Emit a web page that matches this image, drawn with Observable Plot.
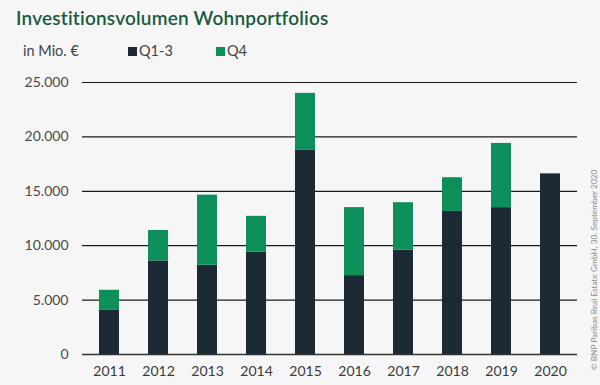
<!DOCTYPE html>
<html>
<head>
<meta charset="utf-8">
<script src="https://cdn.jsdelivr.net/npm/d3@7"></script>
<script src="https://cdn.jsdelivr.net/npm/@observablehq/plot@0.6"></script>
<style>
  html, body { margin: 0; padding: 0; background: #f6f6f6; }
  #wrap { position: relative; width: 600px; height: 385px; overflow: hidden; background: #f6f6f6; font-family: Lato, "Open Sans", sans-serif; }
  #title { position: absolute; left: 16px; top: 6px; font-size: 19px; font-weight: 600; color: #1a5a3e; letter-spacing: 0.2px; white-space: nowrap; }
  .sub { position: absolute; top: 42px; font-size: 14.5px; color: #444; white-space: nowrap; }
  .sw { display: inline-block; width: 9px; height: 9px; margin-right: 2px; vertical-align: 0px; }
  #credit { position: absolute; left: 594px; top: 270px; transform: translate(-50%, -50%) rotate(-90deg); font-size: 8.3px; color: #8a8a8a; white-space: nowrap; }
  #chart { position: absolute; left: 0; top: 65px; }
</style>
</head>
<body>
<div id="wrap">
  <div id="title">Investitionsvolumen Wohnportfolios</div>
  <div class="sub" style="left:23px">in Mio. €</div>
  <div class="sub" style="left:128px"><span class="sw" style="background:#1c2a35"></span>Q1-3</div>
  <div class="sub" style="left:216px"><span class="sw" style="background:#0c8f59"></span>Q4</div>
  <div id="credit">© BNP Paribas Real Estate GmbH, 30. September 2020</div>
  <div id="chart"></div>
</div>
<script>
const years = ["2011","2012","2013","2014","2015","2016","2017","2018","2019","2020"];
const q13   = [4100, 8600, 8200, 9400, 18800, 7250, 9600, 13150, 13500, 16600];
const q4    = [1800, 2800, 6450, 3300, 5200, 6250, 4350, 3100, 5900, 0];
const seriesNames = ["Q1-3", "Q4"];
const seriesColors = ["#1c2a35", "#0c8f59"];
const yTicks = [0, 5000, 10000, 15000, 20000, 25000];

const rows = [];
years.forEach((y, i) => {
  rows.push({year: y, part: seriesNames[0], value: q13[i]});
  rows.push({year: y, part: seriesNames[1], value: q4[i]});
});

const de = d3.formatLocale({decimal: ",", thousands: ".", grouping: [3], currency: ["", " €"]});
const fmt = de.format(",");

const chart = Plot.plot({
  width: 600,
  height: 320,
  marginTop: 17,
  marginBottom: 31,
  marginLeft: 82,
  marginRight: 23,
  style: {background: "transparent", fontFamily: "Lato, 'Open Sans', sans-serif", fontSize: "14px", color: "#444"},
  x: {domain: years, paddingInner: 0.6, paddingOuter: 0.3, label: null},
  y: {domain: [0, 25000], label: null},
  color: {domain: seriesNames, range: seriesColors},
  marks: [
    Plot.ruleY(yTicks, {stroke: "#1a1a1a", strokeWidth: 1.2}),
    Plot.barY(rows, {x: "year", y: "value", fill: "part", order: seriesNames}),
    Plot.ruleY([0], {stroke: "#333", strokeWidth: 1.5}),
    Plot.axisY({ticks: yTicks, tickFormat: fmt, tickSize: 0, tickPadding: 14, fontSize: 14, fill: "#4a4a4a"}),
    Plot.axisX({tickSize: 0, tickPadding: 12, fontSize: 14, fill: "#3a3a3a"})
  ]
});
document.getElementById("chart").appendChild(chart);
</script>
</body>
</html>
